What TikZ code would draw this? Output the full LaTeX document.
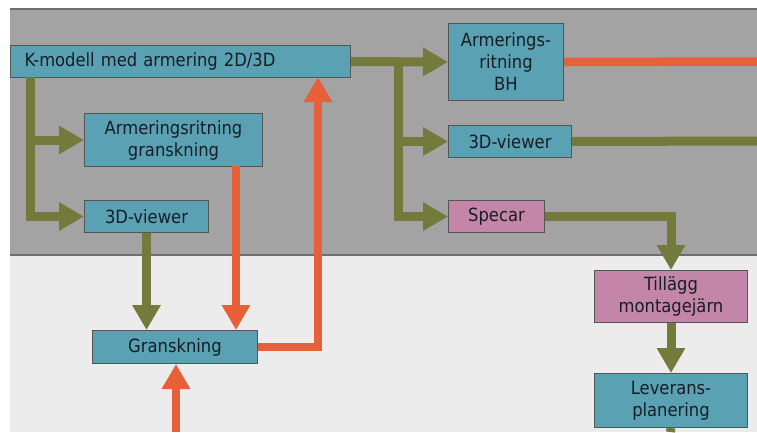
\documentclass[tikz,border=0pt]{standalone}
\usepackage{fontspec}
\setmainfont{DejaVu Sans Condensed}
\usetikzlibrary{arrows.meta,calc}

\definecolor{boxblue}{RGB}{90,161,180}
\definecolor{boxpink}{RGB}{196,134,168}
\definecolor{flowolive}{RGB}{115,122,60}
\definecolor{floworange}{RGB}{232,96,58}
\definecolor{bandgray}{RGB}{163,163,163}
\definecolor{bandlight}{RGB}{236,236,236}
\definecolor{bandline}{RGB}{110,110,110}
\definecolor{boxline}{RGB}{85,85,85}
\definecolor{inkdark}{RGB}{22,30,36}

\tikzset{
  box/.style={draw=boxline, line width=1pt, fill=boxblue, anchor=north west,
    inner sep=0pt, align=center, text=inkdark,
    font=\fontsize{18.2}{22}\selectfont},
  pinkbox/.style={box, fill=boxpink},
  olive/.style={draw=flowolive, line width=9pt},
  orange/.style={draw=floworange, line width=8.5pt},
  tip/.style={-{Triangle[length=25pt,width=27pt]}},
}

\begin{document}
\begin{tikzpicture}[x=1pt,y=-1pt]
\useasboundingbox (0,0) rectangle (757,432);

% background bands
\fill[white] (0,0) rectangle (757,432);
\fill[bandgray] (10,9) rectangle (757,255);
\fill[bandlight] (10,255) rectangle (757,432);
\draw[bandline, line width=1.5pt] (10,9) -- (757,9);
\draw[bandline, line width=1.5pt] (10,255) -- (757,255);

% process boxes
\node[box, minimum width=340pt, minimum height=32pt, text width=340pt, align=left]
  (km) at (10,45) {\hspace*{14pt}K-modell med armering 2D/3D};
\node[box, minimum width=178pt, minimum height=53pt] (arg) at (84,113) {Armeringsritning\\granskning};
\node[box, minimum width=124pt, minimum height=32pt] (v1) at (84,200) {3D-viewer};
\node[box, minimum width=165pt, minimum height=33pt] (gr) at (92,330) {Granskning};
\node[box, minimum width=115pt, minimum height=77pt] (bh) at (448,23) {Armerings-\\ritning\\BH};
\node[box, minimum width=123pt, minimum height=32pt] (v2) at (448,125) {3D-viewer};
\node[pinkbox, minimum width=96pt, minimum height=32pt] (sp) at (448,200) {Specar};
\node[pinkbox, minimum width=153pt, minimum height=52pt] (ti) at (594,270) {Tillägg\\montagejärn};
\node[box, minimum width=153pt, minimum height=54pt] (lv) at (594,373) {Leverans-\\planering};

% free ends at the picture border and connector start points
\coordinate (bhout) at (757,61.5);
\coordinate (v2out) at (757,141);
\coordinate (lvout) at (670.5,432);
\coordinate (grin) at (176,432);
\coordinate (ltrunk) at (30,77);
\coordinate (argout) at (236,166);
\coordinate (kmin) at (318,77);
\coordinate (rtrunk) at (398,61.5);

% model -> review branches (left)
\draw[olive, tip] (ltrunk) |- (v1.west);
\draw[olive, tip] (ltrunk |- arg.west) -- (arg.west);
\draw[olive, tip] (v1.south) -- (v1.south |- gr.north);
\draw[orange, tip] (argout) -- (argout |- gr.north);
\draw[orange, tip] (gr.east) -| (kmin);
\draw[orange, tip] (grin) -- (grin |- gr.south);

% model -> deliverables (right)
\draw[olive, tip] (km.east) -- (bh.west);
\draw[olive, tip] (rtrunk) |- (sp.west);
\draw[olive, tip] (rtrunk |- v2.west) -- (v2.west);
\draw[orange] (bh.east) -- (bhout);
\draw[olive] (v2.east) -- (v2out);
\draw[olive, tip] (sp.east) -| (ti.north);
\draw[olive, tip] (ti.south) -- (lv.north);
\draw[olive] (lv.south) -- (lvout);
\end{tikzpicture}
\end{document}
